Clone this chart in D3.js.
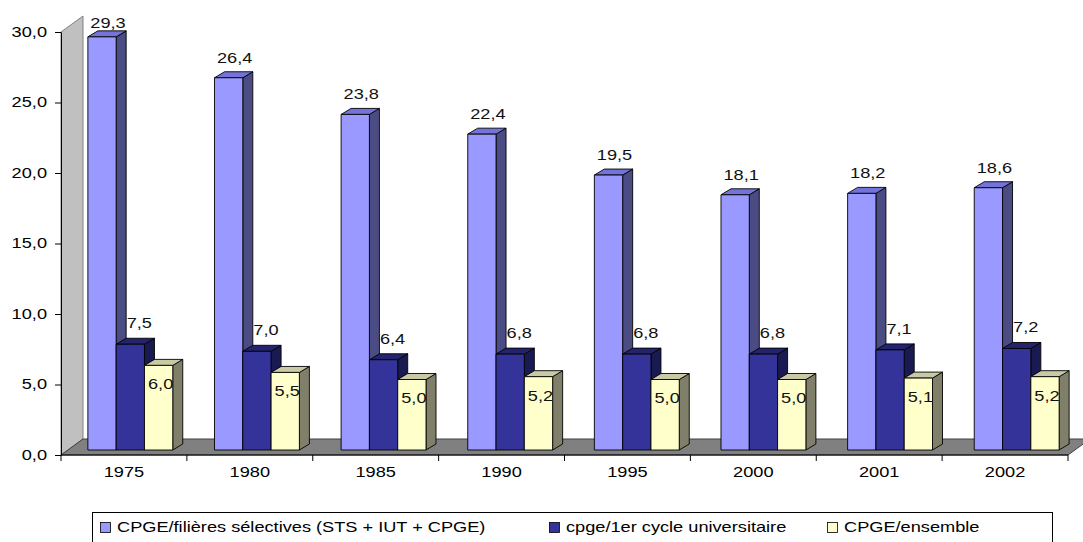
<!DOCTYPE html>
<html>
<head>
<meta charset="utf-8">
<script src="https://cdn.jsdelivr.net/npm/d3@7/dist/d3.min.js"></script>
<style>
  html, body { margin: 0; padding: 0; background: #fff; }
  svg { display: block; font-family: "Liberation Sans", Arial, sans-serif; }
</style>
</head>
<body>
<svg id="chart" width="1083" height="542"></svg>
<script>
// Student ratios (%) by year
const years = ["1975", "1980", "1985", "1990", "1995", "2000", "2001", "2002"];
const selective = [29.3, 26.4, 23.8, 22.4, 19.5, 18.1, 18.2, 18.6];
const university = [7.5, 7.0, 6.4, 6.8, 6.8, 6.8, 7.1, 7.2];
const overall = [6.0, 5.5, 5.0, 5.2, 5.0, 5.0, 5.1, 5.2];
const seriesNames = [
  "CPGE/filières sélectives (STS + IUT + CPGE)",
  "cpge/1er cycle universitaire",
  "CPGE/ensemble"
];
const yTicks = [0, 5, 10, 15, 20, 25, 30];

const series = [selective, university, overall];
// front, side, top face colours per series
const palette = [
  { front: "#9999ff", side: "#4c4c85", top: "#7373d9" },
  { front: "#333399", side: "#1a1a52", top: "#24246e" },
  { front: "#ffffcc", side: "#80806a", top: "#c9c9a6" }
];

const fr = d3.formatLocale({ decimal: ",", thousands: " ", grouping: [3], currency: ["", "€"] });
const fmt = fr.format(".1f");

const svg = d3.select("#chart");
const TX = "scale(1.3,1)"; // wide lettering

// Front plane geometry
const x0 = 61, x1 = 1068;
const y = d3.scaleLinear().domain([0, 30]).range([455, 32]);
const xBand = d3.scaleBand().domain(years).range([x0, x1]);

// Depth of the floor / wall
const depthX = 22, depthY = -16;

// Plane in which the bars stand
const barBand = d3.scaleBand().domain(years).range([67, 1080]);
const barShiftY = -5;
const barW = 28.3;
const bdx = 10, bdy = -6;

// Side wall
svg.append("polygon")
  .attr("points", [[x0, y(0)], [x0, y(30)], [x0 + depthX, y(30) + depthY], [x0 + depthX, y(0) + depthY]].join(" "))
  .attr("fill", "#c0c0c0").attr("stroke", "#808080").attr("stroke-width", 1);

// Floor
svg.append("polygon")
  .attr("points", [[x0, y(0)], [x1, y(0)], [x1 + depthX, y(0) + depthY], [x0 + depthX, y(0) + depthY]].join(" "))
  .attr("fill", "#808080").attr("stroke", "#404040").attr("stroke-width", 1);

// Bars
const barsG = svg.append("g");
years.forEach((yr, i) => {
  const groupW = barW * series.length;
  const gx = barBand(yr) + barBand.bandwidth() / 2 - groupW / 2;
  series.forEach((vals, s) => {
    const v = vals[i];
    const c = palette[s];
    const left = gx + s * barW, right = left + barW;
    const base = y(0) + barShiftY, top = y(v) + barShiftY;
    const g = barsG.append("g").attr("stroke", "#000").attr("stroke-width", 0.9).attr("stroke-linejoin", "round");
    g.append("polygon")
      .attr("points", [[right, base], [right, top], [right + bdx, top + bdy], [right + bdx, base + bdy]].join(" "))
      .attr("fill", c.side);
    g.append("polygon")
      .attr("points", [[left, top], [right, top], [right + bdx, top + bdy], [left + bdx, top + bdy]].join(" "))
      .attr("fill", c.top);
    g.append("rect")
      .attr("x", left).attr("y", top).attr("width", barW).attr("height", base - top)
      .attr("fill", c.front);
  });
});

// Value labels (kept inside the chart area at the top)
const labelG = svg.append("g").attr("font-size", 14).attr("fill", "#111").attr("text-anchor", "middle");
const labelOffsets = [
  { dx: 6, dy: -20 },  // above the tall bars
  { dx: 9, dy: -21 },  // above the middle bars
  { dx: 2, dy: 19 }    // just inside the top of the short bars
];
const labelMinY = 23;
years.forEach((yr, i) => {
  const groupW = barW * series.length;
  const gx = barBand(yr) + barBand.bandwidth() / 2 - groupW / 2;
  series.forEach((vals, s) => {
    const v = vals[i];
    const cx = gx + s * barW + barW / 2 + labelOffsets[s].dx;
    const cy = Math.max(labelMinY, y(v) + barShiftY + labelOffsets[s].dy);
    labelG.append("text")
      .attr("transform", `translate(${cx},${cy}) ${TX}`)
      .attr("dy", "0.35em")
      .text(fmt(v));
  });
});

// Y axis
const yAxis = svg.append("g")
  .attr("transform", `translate(${x0},0)`)
  .call(d3.axisLeft(y).tickValues(yTicks).tickSize(6).tickSizeOuter(0).tickFormat(fmt));
yAxis.select(".domain").attr("stroke", "#000");
yAxis.selectAll(".tick line").attr("stroke", "#000");
yAxis.selectAll(".tick text")
  .attr("x", null)
  .attr("transform", `translate(-14,0) ${TX}`)
  .attr("fill", "#000").attr("font-size", 14).attr("font-family", "Liberation Sans, Arial, sans-serif");

// X axis: labels at band centres, ticks at band boundaries
const xAxis = svg.append("g")
  .attr("transform", `translate(0,${y(0)})`)
  .call(d3.axisBottom(xBand).tickSize(0).tickPadding(12));
xAxis.select(".domain").remove();
xAxis.selectAll(".tick text")
  .attr("transform", TX)
  .attr("fill", "#000").attr("font-size", 14).attr("font-family", "Liberation Sans, Arial, sans-serif");

svg.append("line")
  .attr("x1", x0).attr("x2", x1).attr("y1", y(0)).attr("y2", y(0))
  .attr("stroke", "#000").attr("stroke-width", 1.2);
const bounds = years.map(d => xBand(d)).concat([x1]);
svg.append("g").selectAll("line").data(bounds).join("line")
  .attr("x1", d => d).attr("x2", d => d)
  .attr("y1", y(0)).attr("y2", y(0) + 6)
  .attr("stroke", "#000");

// Legend
const legend = svg.append("g");
legend.append("rect")
  .attr("x", 92.5).attr("y", 512.5).attr("width", 960).attr("height", 40)
  .attr("fill", "#fff").attr("stroke", "#000").attr("stroke-width", 1);
const legendX = [100, 549, 827];
seriesNames.forEach((name, s) => {
  legend.append("rect")
    .attr("x", legendX[s] + 0.5).attr("y", 522.5).attr("width", 10).attr("height", 10)
    .attr("fill", palette[s].front).attr("stroke", "#000").attr("stroke-width", 0.8);
  legend.append("text")
    .attr("transform", `translate(${legendX[s] + 17},532) ${TX}`)
    .attr("font-size", 14).attr("fill", "#000")
    .text(name);
});
</script>
</body>
</html>
